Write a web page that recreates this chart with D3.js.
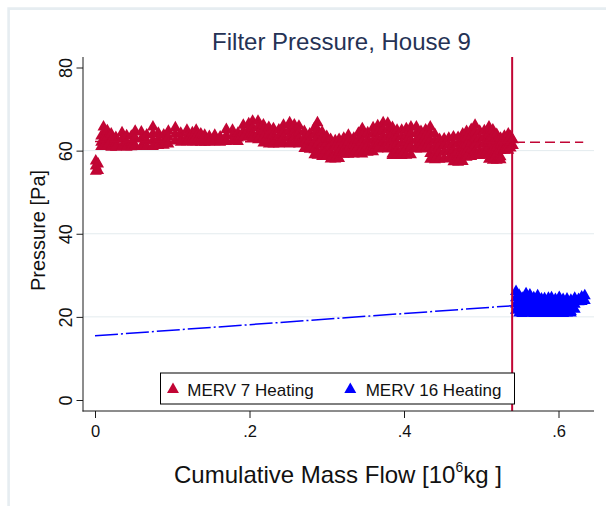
<!DOCTYPE html>
<html>
<head>
<meta charset="utf-8">
<script src="https://cdn.jsdelivr.net/npm/d3@7"></script>
<style>
  html, body { margin: 0; padding: 0; background: #ffffff; }
  svg { display: block; font-family: "Liberation Sans", Arial, Helvetica, sans-serif; }
</style>
</head>
<body>
<script>
// ---------------- DATA ----------------
const chartTitle = "Filter Pressure, House 9";
const yTitle = "Pressure [Pa]";
const xTicks = [0, 0.2, 0.4, 0.6];
const xTickLabels = ["0", ".2", ".4", ".6"];
const yTicks = [0, 20, 40, 60, 80];
const yTickLabels = ["0", "20", "40", "60", "80"];
const yGridValues = [20, 40, 60];
const seriesNames = ["MERV 7 Heating", "MERV 16 Heating"];
const filterChangeMass = [0.54];

// linear fits (mass, pressure at ends)
const fitMass = [0, 0.632];
const merv7Fit = [62.2, 62.0];
const merv16Fit = [15.45, 23.9];

// MERV 7 readings: mass flow and the pressure readings recorded near it
const merv7Mass = [0.001, 0.004, 0.008, 0.011, 0.016, 0.021, 0.027, 0.035, 0.041, 0.047,
  0.052, 0.060, 0.067, 0.075, 0.082, 0.089, 0.095, 0.104, 0.111, 0.119,
  0.126, 0.131, 0.137, 0.142, 0.148, 0.155, 0.162, 0.170, 0.178, 0.185,
  0.192, 0.199, 0.204, 0.211, 0.218, 0.225, 0.231, 0.238, 0.244, 0.252,
  0.258, 0.264, 0.271, 0.278, 0.284, 0.288, 0.294, 0.300, 0.305, 0.311,
  0.316, 0.322, 0.328, 0.335, 0.341, 0.346, 0.353, 0.360, 0.366, 0.373,
  0.379, 0.385, 0.391, 0.397, 0.403, 0.409, 0.416, 0.422, 0.428, 0.434,
  0.440, 0.446, 0.452, 0.458, 0.464, 0.470, 0.476, 0.481, 0.487, 0.492,
  0.498, 0.504, 0.510, 0.515, 0.520, 0.525, 0.530, 0.535, 0.538, 0.541];
const merv7Pressure = [
  [57.5, 56.3, 55.0], [56.8, 55.2], [63.5, 62.0, 61.0], [65.7, 64.0, 62.5, 61.0], [64.8, 63.2, 61.2],
  [64.0, 62.4, 60.8], [63.2, 61.8, 60.8], [64.3, 62.7, 61.0], [63.6, 62.0, 60.8], [63.5, 61.8, 60.9],
  [64.7, 63.0, 61.2], [64.5, 62.8, 61.0], [63.8, 62.3, 61.0], [65.7, 64.0, 62.4, 61.0], [64.2, 62.7, 61.2],
  [63.8, 62.3, 61.3], [64.7, 63.2, 61.6], [65.5, 63.9, 62.3], [64.2, 62.8, 62.0], [64.9, 63.3, 62.1],
  [64.3, 63.0, 62.0], [64.9, 63.4, 62.1], [64.0, 62.9, 62.0], [63.7, 62.8, 62.0], [63.4, 62.4, 62.0],
  [63.7, 62.8, 62.1], [63.3, 62.5, 62.0], [65.1, 63.6, 62.2], [64.9, 63.5, 62.3], [64.2, 63.0, 62.2],
  [66.1, 64.6, 63.2], [66.5, 65.0, 63.5], [67.1, 65.5, 64.0, 63.0], [67.1, 65.6, 64.0, 62.6], [66.2, 64.8, 63.2, 61.8],
  [65.6, 64.0, 62.5, 61.6], [65.3, 63.8, 62.4, 61.6], [65.0, 63.5, 62.2, 61.6], [66.1, 64.6, 63.1, 61.7], [66.7, 65.1, 63.5, 62.0, 61.6],
  [66.2, 64.7, 63.2, 61.7], [65.9, 64.4, 62.9, 61.6], [64.6, 63.1, 61.7, 60.5], [64.0, 62.5, 61.0, 60.3], [65.4, 63.8, 62.0, 60.2, 59.0],
  [66.7, 65.0, 63.3, 61.5, 59.8, 58.9], [64.5, 62.9, 61.3, 59.8, 58.6], [63.4, 61.8, 60.2, 58.6], [62.7, 61.2, 59.6, 58.0], [62.4, 60.9, 59.3, 58.0],
  [62.7, 61.2, 59.6, 58.1], [63.0, 61.5, 60.1, 59.1], [63.7, 62.1, 60.5, 59.1], [63.0, 61.7, 60.4, 59.2], [64.2, 62.6, 61.0, 59.3],
  [65.3, 63.7, 62.1, 60.5, 59.2], [64.3, 62.7, 61.2, 59.6], [65.5, 63.9, 62.3, 60.8, 59.7], [66.0, 64.4, 62.8, 61.3, 60.4], [66.7, 65.1, 63.5, 62.0, 60.5],
  [66.6, 65.0, 63.4, 61.8, 60.4], [65.6, 64.0, 62.4, 60.8, 59.2, 58.8], [64.9, 63.3, 61.7, 60.2, 58.8], [64.9, 63.3, 61.7, 60.2, 58.8], [65.3, 63.7, 62.1, 60.5, 58.9],
  [65.7, 64.1, 62.5, 60.9, 59.0], [65.7, 64.1, 62.5, 61.0, 60.4], [64.6, 63.1, 61.6, 60.4], [65.0, 63.5, 62.0, 60.5], [65.7, 64.1, 62.5, 60.9, 59.3, 57.9],
  [63.9, 62.3, 60.7, 59.2, 57.8], [62.7, 61.2, 59.6, 57.9], [62.8, 61.3, 59.7, 58.0], [63.0, 61.4, 59.8, 58.1], [63.3, 61.7, 60.1, 58.6, 57.3],
  [63.2, 61.6, 60.0, 58.4, 57.2], [64.0, 62.4, 60.8, 59.2, 57.4], [64.6, 63.0, 61.4, 59.8, 58.4], [65.1, 63.5, 61.9, 60.3, 58.6], [66.1, 64.5, 62.9, 61.3, 59.7, 58.8],
  [64.7, 63.1, 61.5, 59.9, 58.8], [64.8, 63.2, 61.6, 60.0, 58.9], [65.7, 64.1, 62.5, 60.9, 59.3, 57.9], [65.0, 63.4, 61.8, 60.2, 58.6, 57.7], [63.9, 62.4, 60.8, 59.2, 57.7],
  [63.0, 61.5, 60.0, 58.5, 57.8], [63.5, 62.0, 60.5, 60.1], [64.0, 62.5, 61.0, 60.1], [63.4, 62.0, 60.6], [62.6, 61.2]
];

// MERV 16 readings
const merv16Mass = [0.545, 0.549, 0.553, 0.558, 0.563, 0.568, 0.573, 0.578, 0.582, 0.587,
  0.591, 0.596, 0.601, 0.606, 0.611, 0.616, 0.621, 0.626, 0.630, 0.634];
const merv16Pressure = [
  [26.1, 24.6, 23.1, 21.6], [25.2, 23.7, 22.2, 20.9], [24.5, 23.0, 21.6, 20.8], [25.6, 24.1, 22.6, 21.1], [25.3, 23.8, 22.3, 20.9],
  [24.6, 23.1, 21.7, 20.8], [25.1, 23.6, 22.1, 20.9], [24.3, 22.8, 21.4, 20.8], [24.4, 22.9, 21.5, 20.8], [24.5, 23.0, 21.6, 20.9],
  [24.6, 23.1, 21.7, 20.8], [24.2, 22.8, 21.4, 20.8], [24.7, 23.2, 21.8, 20.9], [24.2, 22.8, 21.4, 20.8], [24.3, 22.9, 21.5, 20.9],
  [24.0, 22.6, 21.3, 20.9], [24.5, 23.0, 21.8], [24.2, 23.6], [24.8, 23.7], [25.1, 23.9]
];

// ---------------- STYLE / LAYOUT ----------------
const W = 606, H = 506;
const plotL = 83, plotR = 594, plotT = 57, plotB = 411;
const red = "#c10534", blue = "#0000ff";
const axisColor = "#1a1a1a";
const textColor = "#111111";

const x = d3.scaleLinear().domain([0, 0.6]).range([95, 558.5]);
const y = d3.scaleLinear().domain([0, 80]).range([400, 67.5]);

const tri = d3.symbol().type(d3.symbolTriangle).size(62);

const svg = d3.select("body").append("svg").attr("width", W).attr("height", H);
svg.append("rect").attr("width", W).attr("height", H).attr("fill", "#ffffff");

// outer graph-region border (top/left visible)
svg.append("path").attr("d", "M8.6,530 V8.6 H640")
  .attr("fill", "none").attr("stroke", "#e6edf1").attr("stroke-width", 2.6);

// title
svg.append("text").attr("x", 341.5).attr("y", 50).attr("text-anchor", "middle")
  .attr("font-size", 24).attr("fill", "#253255").text(chartTitle);

// gridlines
svg.append("g").selectAll("line").data(yGridValues).join("line")
  .attr("x1", plotL).attr("x2", plotR)
  .attr("y1", d => y(d)).attr("y2", d => y(d))
  .attr("stroke", "#e3ebee").attr("stroke-width", 1);

// points
const flat = (mass, press) => mass.flatMap((m, i) => press[i].map(p => ({m, p})));
const merv7Points = flat(merv7Mass, merv7Pressure);
const merv16Points = flat(merv16Mass, merv16Pressure);

svg.append("g").selectAll("path").data(merv7Points).join("path")
  .attr("d", tri).attr("fill", red)
  .attr("transform", d => `translate(${x(d.m)},${y(d.p)})`);
svg.append("g").selectAll("path").data(merv16Points).join("path")
  .attr("d", tri).attr("fill", blue)
  .attr("transform", d => `translate(${x(d.m)},${y(d.p)})`);

// fit lines
const line = d3.line().x(d => x(d[0])).y(d => y(d[1]));
svg.append("path").attr("d", line(fitMass.map((m, i) => [m, merv7Fit[i]])))
  .attr("fill", "none").attr("stroke", red).attr("stroke-width", 1.5)
  .attr("stroke-dasharray", "10,5");
svg.append("path").attr("d", line(fitMass.map((m, i) => [m, merv16Fit[i]])))
  .attr("fill", "none").attr("stroke", blue).attr("stroke-width", 1.5)
  .attr("stroke-dasharray", "23,3,2,3");

// filter change line
svg.append("g").selectAll("line").data(filterChangeMass).join("line")
  .attr("x1", d => x(d)).attr("x2", d => x(d))
  .attr("y1", plotT).attr("y2", plotB)
  .attr("stroke", red).attr("stroke-width", 2);

// axes
const yAxis = svg.append("g").attr("transform", `translate(${plotL},0)`)
  .call(d3.axisLeft(y).tickValues(yTicks).tickSize(6.5).tickFormat((d, i) => yTickLabels[i]));
yAxis.select(".domain").remove();
yAxis.selectAll(".tick line").attr("stroke", axisColor);
yAxis.selectAll(".tick text")
  .attr("x", 0).attr("y", -11.5).attr("dy", null)
  .attr("transform", "rotate(-90)").attr("text-anchor", "middle")
  .attr("font-size", 18).attr("fill", textColor).attr("font-family", null);

const xAxis = svg.append("g").attr("transform", `translate(0,${plotB})`)
  .call(d3.axisBottom(x).tickValues(xTicks).tickSize(7).tickFormat((d, i) => xTickLabels[i]));
xAxis.select(".domain").remove();
xAxis.selectAll(".tick line").attr("stroke", axisColor);
xAxis.selectAll(".tick text")
  .attr("y", 25.7).attr("dy", null)
  .attr("font-size", 16.5).attr("fill", textColor).attr("font-family", null);

svg.append("line").attr("x1", plotL).attr("x2", plotL).attr("y1", plotT).attr("y2", plotB + 0.5)
  .attr("stroke", axisColor).attr("stroke-width", 1);
svg.append("line").attr("x1", plotL - 0.5).attr("x2", plotR).attr("y1", plotB).attr("y2", plotB)
  .attr("stroke", axisColor).attr("stroke-width", 1);

// axis titles
svg.append("text").attr("transform", "translate(44.5,230.5) rotate(-90)")
  .attr("text-anchor", "middle").attr("font-size", 20).attr("fill", textColor).text(yTitle);

const xt = svg.append("text").attr("x", 338).attr("y", 483).attr("text-anchor", "middle")
  .attr("font-size", 24).attr("fill", textColor);
xt.append("tspan").text("Cumulative Mass Flow [10");
xt.append("tspan").attr("font-size", 14).attr("dy", -11).text("6");
xt.append("tspan").attr("dy", 11).text("kg ]");

// legend
const lg = svg.append("g");
lg.append("rect").attr("x", 160.5).attr("y", 373).attr("width", 354).attr("height", 31)
  .attr("fill", "#ffffff").attr("stroke", "#000000").attr("stroke-width", 1);
const legendItems = [
  {name: seriesNames[0], color: red, mx: 173, tx: 187.3},
  {name: seriesNames[1], color: blue, mx: 350.3, tx: 365.7}
];
legendItems.forEach(it => {
  lg.append("path").attr("d", tri).attr("fill", it.color)
    .attr("transform", `translate(${it.mx},389.5)`);
  lg.append("text").attr("x", it.tx).attr("y", 396).attr("font-size", 17)
    .attr("fill", textColor).text(it.name);
});
</script>
</body>
</html>
